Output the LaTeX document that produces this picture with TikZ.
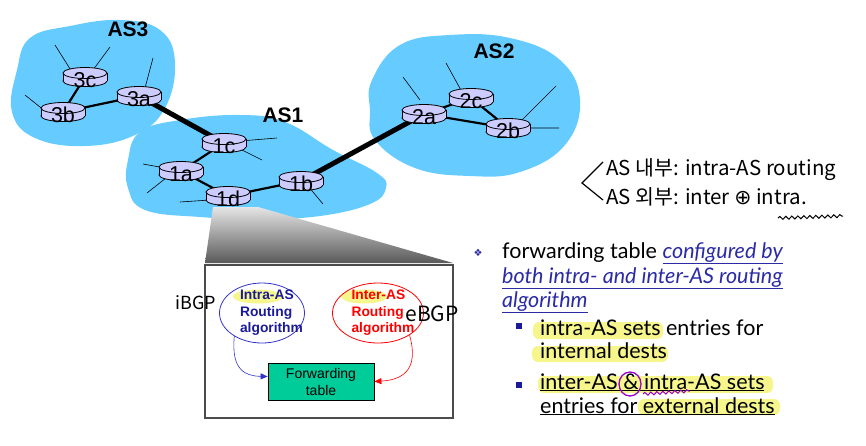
\documentclass[tikz,border=0pt]{standalone}
\usepackage{fontspec}
\setmainfont{Liberation Sans}
\newfontfamily\gillf{Lato}
\newfontfamily\krf{Noto Sans CJK KR}
\newfontfamily\djf{DejaVu Sans}
\usetikzlibrary{shapes.geometric,arrows.meta,decorations.pathmorphing}
\definecolor{asblue}{HTML}{66CCFF}
\definecolor{rtfill}{HTML}{CCCCFF}
\definecolor{navyt}{HTML}{1A1A99}
\definecolor{ellblue}{HTML}{3333CC}
\definecolor{fwdgreen}{HTML}{00CC99}
\definecolor{hl}{HTML}{F6F68C}
\definecolor{linkblue}{HTML}{2B2BA6}
\definecolor{purp}{HTML}{9900CC}
\begin{document}
\begin{tikzpicture}[x=1pt,y=-1pt,
  blob/.style={fill=asblue,draw=none},
  link/.style={line width=2.2pt},
  wan/.style={line width=5pt},
  stub/.style={line width=0.6pt},
  aslabel/.style={font=\bfseries\fontsize{21}{22}\selectfont,inner sep=0},
  router/.pic={
    \filldraw[fill=rtfill,line width=0.8pt] (0,4) ellipse [x radius=22, y radius=5.5];
    \fill[rtfill] (-22,-4) rectangle (22,4);
    \draw[line width=0.8pt] (-22,-4) -- (-22,4) (22,-4) -- (22,4);
    \filldraw[fill=rtfill,line width=0.8pt] (0,-4) ellipse [x radius=22, y radius=5.5];
    \node[anchor=base,font=\fontsize{21.5}{21}\selectfont,inner sep=0] at (0,10) {#1};
  },
  rtxt/.style={font=\gillf\fontsize{21.5}{22}\selectfont,inner sep=0,anchor=base west},
  hand/.style={font=\krf\fontsize{20.5}{22}\selectfont,inner sep=0},
  ellt/.style={font=\bfseries\fontsize{13.8}{16.5}\selectfont,align=left,inner sep=0},
  hlite/.style={fill=hl,rounded corners=6pt,draw=none}
]
\useasboundingbox (0,0) rectangle (866,445);

% AS blobs
\fill[blob] plot[smooth cycle,tension=0.7] coordinates {(30,38) (70,26) (120,20) (160,30) (175,62) (165,108) (135,135) (85,146) (35,138) (12,112) (17,70)};
\fill[blob] plot[smooth cycle,tension=0.7] coordinates {(140,132) (180,120) (240,115) (285,122) (333,150) (377,173) (386,188) (370,204) (320,216) (260,219) (200,217) (145,210) (128,188) (128,160)};
\fill[blob] plot[smooth cycle,tension=0.7] coordinates {(372,80) (400,45) (450,35) (510,38) (560,60) (580,100) (565,145) (520,172) (470,176) (415,168) (375,140) (370,110)};

\node[aslabel] (as3) at (128,29) {AS3};
\node[aslabel] (as1) at (283,115) {AS1};
\node[aslabel] (as2) at (494,51) {AS2};

% router positions
\coordinate (r3c) at (85,77);
\coordinate (r3b) at (63,112);
\coordinate (r3a) at (139,96);
\coordinate (r1c) at (224,143);
\coordinate (r1a) at (181,171);
\coordinate (r1d) at (228,196);
\coordinate (r1b) at (301,181);
\coordinate (r2a) at (424,114);
\coordinate (r2c) at (471,98);
\coordinate (r2b) at (508,128);

% host stubs
\draw[stub] (72,72) -- (55,45) (93,70) -- (110,47);
\draw[stub] (45,111) -- (25,95);
\draw[stub] (145,88) -- (153,58);
\draw[stub] (240,141) -- (277,138) (240,149) -- (262,160);
\draw[stub] (165,168) -- (143,164) (166,178) -- (147,193);
\draw[stub] (210,200) -- (180,202);
\draw[stub] (308,186) -- (323,204);
\draw[stub] (420,100) -- (403,77);
\draw[stub] (462,92) -- (446,63);
\draw[stub] (520,122) -- (556,86) (528,128) -- (559,128);

% links
\draw[wan] (r3a) -- (r1c);
\draw[wan] (r1b) -- (r2a);
\draw[link] (r3c) -- (r3b);
\draw[link] (r3b) -- (r3a);
\draw[link] (r1c) -- (r1a);
\draw[link] (r1a) -- (r1d);
\draw[link] (r1d) -- (r1b);
\draw[link] (r2a) -- (r2c);
\draw[link] (r2c) -- (r2b);
\draw[link] (r2a) -- (r2b);

% routers
\pic at (r3c) {router=3c};
\pic at (r3b) {router=3b};
\pic at (r3a) {router=3a};
\pic at (r1c) {router=1c};
\pic at (r1a) {router=1a};
\pic at (r1b) {router=1b};
\pic at (r2a) {router=2a};
\pic at (r2c) {router=2c};
\pic at (r2b) {router=2b};

% zoom trapezoid
\shade[top color=black!10,bottom color=black!65] (213,207) -- (258,207) -- (453,263) -- (205,263) -- cycle;
\pic at (r1d) {router=1d};

% router detail box
\node[draw=black!70,line width=1.2pt,minimum width=248,minimum height=153,inner sep=0] (box) at (329,341.5) {};
\fill[hl] (258,296.5) ellipse [x radius=25, y radius=7];
\fill[hl] (364,296.5) ellipse [x radius=23, y radius=7];
\node[ellipse,draw=ellblue,line width=0.8pt,minimum width=85,minimum height=60] (intra) at (262,313) {};
\node[ellipse,draw=red,line width=0.8pt,minimum width=91,minimum height=60] (inter) at (378,313) {};
\node[ellt,text=navyt] (intrat) at (271.5,313) {Intra-AS\\Routing\\algorithm};
\node[ellt,text=red] (intert) at (383,313) {Inter-AS\\Routing\\algorithm};
\node[draw=black,line width=0.8pt,fill=fwdgreen,minimum width=106,minimum height=37,inner sep=0,align=center,font=\fontsize{14}{17}\selectfont] (fwd) at (321,381.5) {Forwarding\\table};
\draw[ellblue,line width=0.6pt,-{Triangle[length=7pt,width=6pt]}] (intra.220) .. controls (231,370) and (245,376) .. ([yshift=5pt]fwd.west);
\draw[red,line width=0.6pt,-{Triangle[length=7pt,width=6pt]}] (inter.-35) .. controls (420,372) and (400,380) .. (fwd.east);

\node[hand,font=\krf\fontsize{18}{18}\selectfont] (ibgp) at (196,303) {iBGP};
\node[hand,font=\krf\fontsize{21}{20}\selectfont] (ebgp) at (432,314) {eBGP};

% right text
\node[text=linkblue,font=\djf\fontsize{10}{10}\selectfont,inner sep=0] (b0) at (478,253) {❖};
\node[rtxt] (t1) at (502,258) {forwarding table {\color{linkblue}\itshape\underline{configured by}}};
\node[rtxt,text=linkblue] (t2) at (502,283) {\itshape\underline{both intra- and inter-AS routing}};
\node[rtxt,text=linkblue] (t3) at (502,307) {\itshape\underline{algorithm}};

\fill[hlite] (533,322) rectangle (663,339);
\fill[hlite] (532,346) rectangle (668,362);
\fill[hlite] (538,376) rectangle (773,393);
\fill[hlite] (638,399) rectangle (780,415);
\fill[navyt] (516,323) rectangle (522,329);
\fill[navyt] (516,382) rectangle (522,388);
\node[rtxt] (s1) at (540,335) {intra-AS sets entries for};
\node[rtxt] (s2) at (540,358) {internal dests};
\node[rtxt] (s3) at (540,389) {\underline{inter-AS \& intra-AS sets}};
\node[rtxt] (s4) at (540,413) {\underline{entries for external dests}};
\draw[purp,line width=1.3pt] (630,384) ellipse [x radius=11, y radius=12];
\draw[purp,line width=1pt,decorate,decoration={snake,amplitude=1.5pt,segment length=6pt}] (643,394) -- (690,391);

% handwritten notes
\node[hand,anchor=base west] (h1) at (606,175) {AS 내부: intra-AS routing};
\node[hand,anchor=base west] (h2) at (606,204) {AS 외부: inter {\djf ⊕} intra.};
\draw[line width=1.2pt] (603,162) -- (582,183) -- (603,200);
\draw[line width=1pt,decorate,decoration={snake,amplitude=1.5pt,segment length=6pt}] (778,218) -- (843,216);
\end{tikzpicture}
\end{document}
